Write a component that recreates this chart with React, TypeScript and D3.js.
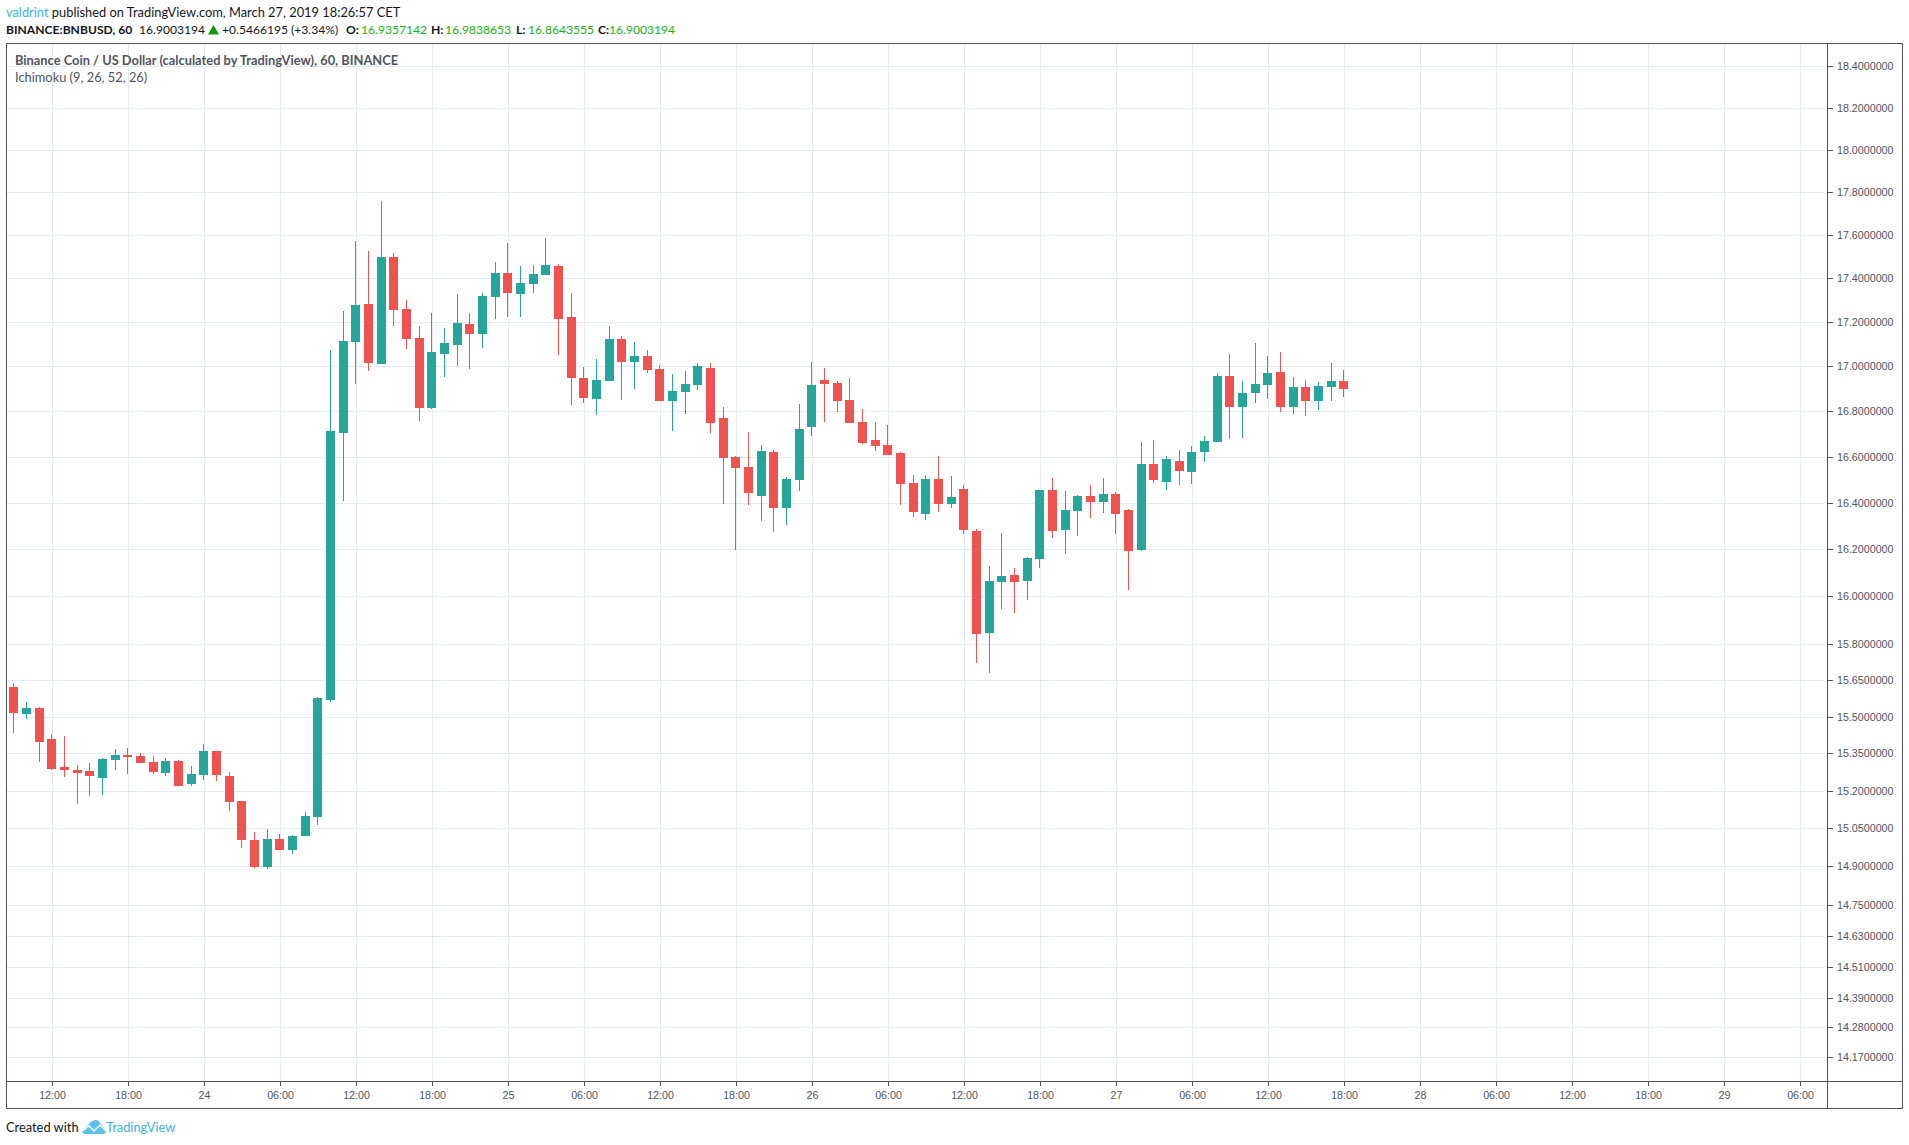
import * as d3 from 'd3';
import { useEffect, useRef } from 'react';

const width = 1909;
const height = 1145;

const opens = [
	15.623, 15.514, 15.538, 15.412, 15.299, 15.287, 15.283, 15.254, 15.327, 15.347, 15.343, 15.319, 15.274, 15.323,
	15.23, 15.266, 15.364, 15.262, 15.162, 15.004, 14.901, 15.008, 14.968, 15.02, 15.095, 15.57, 16.706, 17.112,
	17.285, 17.013, 17.5, 17.262, 17.13, 16.816, 17.058, 17.098, 17.193, 17.148, 17.316, 17.426, 17.33, 17.376,
	17.417, 17.458, 17.225, 16.95, 16.856, 16.936, 17.126, 17.022, 17.049, 16.99, 16.847, 16.888, 16.919, 16.994,
	16.772, 16.6, 16.557, 16.43, 16.622, 16.378, 16.5, 16.732, 16.941, 16.927, 16.852, 16.754, 16.675, 16.653,
	16.618, 16.487, 16.353, 16.504, 16.396, 16.461, 16.28, 15.848, 16.063, 16.092, 16.067, 16.16, 16.457, 16.284,
	16.366, 16.431, 16.405, 16.44, 16.37, 16.198, 16.57, 16.492, 16.583, 16.535, 16.622, 16.666, 16.959, 16.821,
	16.883, 16.919, 16.977, 16.821, 16.91, 16.848, 16.91, 16.9357,
];
const highs = [
	15.639, 15.562, 15.542, 15.432, 15.424, 15.307, 15.315, 15.335, 15.372, 15.376, 15.355, 15.343, 15.335, 15.327,
	15.303, 15.392, 15.364, 15.278, 15.162, 15.036, 15.051, 15.028, 15.024, 15.118, 15.582, 17.075, 17.252, 17.574,
	17.528, 17.76, 17.518, 17.303, 17.184, 17.243, 17.175, 17.33, 17.243, 17.335, 17.477, 17.565, 17.458, 17.463,
	17.588, 17.468, 17.335, 16.999, 17.035, 17.184, 17.139, 17.112, 17.076, 17.008, 16.968, 16.981, 17.017, 17.017,
	16.82, 16.605, 16.71, 16.653, 16.631, 16.513, 16.834, 17.021, 16.994, 16.936, 16.95, 16.812, 16.754, 16.741,
	16.622, 16.522, 16.522, 16.605, 16.517, 16.478, 16.288, 16.131, 16.271, 16.122, 16.169, 16.457, 16.509, 16.452,
	16.435, 16.478, 16.509, 16.448, 16.375, 16.666, 16.675, 16.605, 16.631, 16.649, 16.693, 16.972, 17.058, 16.937,
	17.107, 17.049, 17.067, 16.955, 16.941, 16.932, 17.017, 16.9838,
];
const lows = [
	15.437, 15.493, 15.319, 15.285, 15.258, 15.15, 15.182, 15.186, 15.287, 15.27, 15.315, 15.27, 15.262, 15.222,
	15.222, 15.246, 15.242, 15.122, 14.973, 14.897, 14.893, 14.968, 14.949, 15.02, 15.067, 15.562, 16.409, 16.923,
	16.981, 17.013, 17.184, 17.08, 16.759, 16.812, 16.954, 17.004, 16.99, 17.085, 17.216, 17.225, 17.225, 17.335,
	17.417, 17.053, 16.829, 16.838, 16.785, 16.936, 16.852, 16.901, 16.972, 16.847, 16.715, 16.79, 16.897, 16.706,
	16.396, 16.198, 16.391, 16.323, 16.275, 16.305, 16.452, 16.693, 16.754, 16.799, 16.75, 16.657, 16.627, 16.609,
	16.391, 16.34, 16.327, 16.361, 16.378, 16.267, 15.723, 15.681, 15.948, 15.931, 15.986, 16.122, 16.249, 16.182,
	16.258, 16.335, 16.357, 16.267, 16.029, 16.194, 16.487, 16.457, 16.478, 16.483, 16.578, 16.666, 16.68, 16.684,
	16.839, 16.857, 16.799, 16.79, 16.781, 16.808, 16.848, 16.8644,
];
const closes = [
	15.518, 15.538, 15.4, 15.291, 15.287, 15.274, 15.262, 15.331, 15.347, 15.339, 15.315, 15.278, 15.323, 15.222,
	15.27, 15.364, 15.266, 15.158, 15.004, 14.901, 15.008, 14.968, 15.02, 15.099, 15.578, 16.715, 17.116, 17.28,
	17.017, 17.5, 17.257, 17.126, 16.816, 17.067, 17.107, 17.198, 17.148, 17.321, 17.426, 17.335, 17.38, 17.421,
	17.463, 17.216, 16.95, 16.86, 16.941, 17.126, 17.022, 17.049, 16.985, 16.847, 16.892, 16.923, 17.004, 16.75,
	16.596, 16.552, 16.443, 16.627, 16.378, 16.504, 16.724, 16.919, 16.923, 16.847, 16.75, 16.662, 16.649, 16.609,
	16.483, 16.361, 16.504, 16.396, 16.426, 16.284, 15.843, 16.067, 16.088, 16.063, 16.164, 16.457, 16.28, 16.37,
	16.431, 16.405, 16.44, 16.353, 16.194, 16.57, 16.5, 16.592, 16.54, 16.622, 16.671, 16.959, 16.821, 16.883,
	16.923, 16.972, 16.821, 16.91, 16.848, 16.914, 16.937, 16.9003,
];

const priceTicks = [
	18.4, 18.2, 18, 17.8, 17.6, 17.4, 17.2, 17, 16.8, 16.6, 16.4, 16.2, 16, 15.8, 15.65, 15.5, 15.35, 15.2, 15.05,
	14.9, 14.75, 14.63, 14.51, 14.39, 14.28, 14.17,
];
const timeTickLabels = [
	'12:00', '18:00', '24', '06:00', '12:00', '18:00', '25', '06:00', '12:00', '18:00', '26', '06:00', '12:00',
	'18:00', '27', '06:00', '12:00', '18:00', '28', '06:00', '12:00', '18:00', '29', '06:00',
];

const firstCandle = new Date(Date.UTC(2019, 2, 23, 9));
const firstTick = new Date(Date.UTC(2019, 2, 23, 12));
const lastTick = new Date(Date.UTC(2019, 2, 29, 6));
const timeTicks = d3.utcHour.range(firstTick, d3.utcHour.offset(lastTick, 1), 6);

const plot = { left: 6, top: 43, right: 1827, bottom: 1081, outerRight: 1902, outerBottom: 1108 };

const UP = '#26a69a';
const DOWN = '#ef5350';
const GRID = '#e1ecf2';
const AXIS = '#50535e';
const TEXT = '#4f5560';
const LINK = '#3bb3e4';
const VALUE = '#17b317';

const x = d3.scaleUtc().domain([firstTick, lastTick]).range([52.5, 1800.5]);
const y = d3.scaleLog().domain([14.17, 18.4]).range([1057.3, 66.7]);

// линии ложатся на целый пиксель, иначе расплываются
const snapX = (d: Date) => Math.round(x(d) - 0.5) + 0.5;
const snapY = (d: number) => Math.floor(y(d)) + 0.5;

const headerLine: { text: string; at: number; bold?: boolean; fill?: string }[] = [
	{ text: 'BINANCE:BNBUSD, 60', at: 6, bold: true, fill: '#131722' },
	{ text: '16.9003194', at: 139, fill: '#131722' },
	{ text: '+0.5466195 (+3.34%)', at: 222, fill: '#131722' },
	{ text: 'O:', at: 346, bold: true, fill: '#131722' },
	{ text: '16.9357142', at: 361, fill: VALUE },
	{ text: 'H:', at: 431, bold: true, fill: '#131722' },
	{ text: '16.9838653', at: 445, fill: VALUE },
	{ text: 'L:', at: 516, bold: true, fill: '#131722' },
	{ text: '16.8643555', at: 528, fill: VALUE },
	{ text: 'C:', at: 598, bold: true, fill: '#131722' },
	{ text: '16.9003194', at: 609, fill: VALUE },
];

const headFont = 'Lato, "Open Sans", sans-serif';
const axisFont = '"Liberation Sans", Arial, sans-serif';

export default function App() {
	const chartRef = useRef<SVGSVGElement>(null);

	useEffect(() => {
		const svg = d3.select(chartRef.current);
		svg.selectAll('*').remove();

		svg.append('rect').attr('width', width).attr('height', height).attr('fill', '#fff');

		const grid = svg.append('g').attr('stroke', GRID).attr('stroke-width', 1);
		grid
			.selectAll('line.v')
			.data(timeTicks)
			.enter()
			.append('line')
			.attr('class', 'v')
			.attr('x1', snapX)
			.attr('x2', snapX)
			.attr('y1', plot.top)
			.attr('y2', plot.bottom);
		grid
			.selectAll('line.h')
			.data(priceTicks)
			.enter()
			.append('line')
			.attr('class', 'h')
			.attr('x1', plot.left)
			.attr('x2', plot.right)
			.attr('y1', snapY)
			.attr('y2', snapY);

		// свечи
		const candles = d3.range(opens.length).map((i) => ({
			time: d3.utcHour.offset(firstCandle, i),
			open: opens[i],
			high: highs[i],
			low: lows[i],
			close: closes[i],
		}));
		const candleX = (d: { time: Date }) => Math.floor(x(d.time) - 0.83);
		const candleFill = (d: { open: number; close: number }) => (d.close >= d.open ? UP : DOWN);

		const marks = svg.append('g').attr('shape-rendering', 'crispEdges');
		marks
			.selectAll('rect.wick')
			.data(candles)
			.enter()
			.append('rect')
			.attr('class', 'wick')
			.attr('x', candleX)
			.attr('width', 1)
			.attr('y', (d) => Math.round(y(d.high)))
			.attr('height', (d) => Math.round(y(d.low)) - Math.round(y(d.high)))
			.attr('fill', candleFill);
		marks
			.selectAll('rect.body')
			.data(candles)
			.enter()
			.append('rect')
			.attr('class', 'body')
			.attr('x', (d) => candleX(d) - 4)
			.attr('width', 9)
			.attr('y', (d) => Math.round(y(Math.max(d.open, d.close))))
			.attr('height', (d) =>
				Math.max(1, Math.round(y(Math.min(d.open, d.close))) - Math.round(y(Math.max(d.open, d.close)))),
			)
			.attr('fill', candleFill);

		// рамка
		const frame = svg.append('g').attr('fill', 'none').attr('stroke', AXIS).attr('stroke-width', 1);
		frame
			.append('rect')
			.attr('x', plot.left + 0.5)
			.attr('y', plot.top + 0.5)
			.attr('width', plot.outerRight - plot.left)
			.attr('height', plot.outerBottom - plot.top);
		frame
			.append('path')
			.attr(
				'd',
				`M${plot.right + 0.5} ${plot.top}V${plot.outerBottom}M${plot.left} ${plot.bottom + 0.5}H${plot.outerRight}`,
			);

		// оси
		const priceAxis = d3
			.axisRight(y)
			.tickValues(priceTicks)
			.tickFormat((d) => (d as number).toFixed(7))
			.tickSize(5)
			.tickPadding(4);
		const priceG = svg
			.append('g')
			.attr('transform', `translate(${plot.right + 1},0)`)
			.call(priceAxis);
		priceG.select('.domain').remove();
		priceG.selectAll<SVGGElement, number>('.tick').attr('transform', (d) => `translate(0,${snapY(d)})`);

		const timeAxis = d3
			.axisBottom(x)
			.tickValues(timeTicks)
			.tickFormat((_, i) => timeTickLabels[i])
			.tickSize(4)
			.tickPadding(5);
		const timeG = svg
			.append('g')
			.attr('transform', `translate(0,${plot.bottom + 1})`)
			.call(timeAxis);
		timeG.select('.domain').remove();
		timeG.selectAll<SVGGElement, Date>('.tick').attr('transform', (d) => `translate(${snapX(d)},0)`);

		[priceG, timeG].forEach((g) => {
			g.attr('font-family', axisFont).attr('font-size', 10.7);
			g.selectAll('.tick line').attr('stroke', AXIS);
			g.selectAll('.tick text').attr('fill', TEXT);
		});

		// подписи сверху
		const head = svg.append('g').attr('font-family', headFont).attr('font-size', 12.85);
		const first = head.append('text').attr('x', 6).attr('y', 17).attr('fill', '#131722');
		first.append('tspan').attr('fill', LINK).text('valdrint');
		first.append('tspan').text(' published on TradingView.com, March 27, 2019 18:26:57 CET');

		head
			.selectAll('text.seg')
			.data(headerLine)
			.enter()
			.append('text')
			.attr('class', 'seg')
			.attr('x', (d) => d.at)
			.attr('y', 34)
			.attr('font-size', 12.1)
			.attr('font-weight', (d) => (d.bold ? 700 : 400))
			.attr('fill', (d) => d.fill ?? '#131722')
			.text((d) => d.text);
		head.append('path').attr('d', 'M208 34.5L213.5 25L219 34.5Z').attr('fill', '#0a9a0a');

		head
			.append('text')
			.attr('x', 15)
			.attr('y', 65)
			.attr('font-weight', 700)
			.attr('fill', TEXT)
			.text('Binance Coin / US Dollar (calculated by TradingView), 60, BINANCE');
		head
			.append('text')
			.attr('x', 15)
			.attr('y', 82)
			.attr('fill', TEXT)
			.text('Ichimoku (9, 26, 52, 26)');

		// подпись снизу
		head.append('text').attr('x', 6).attr('y', 1132).attr('fill', '#131722').text('Created with');
		head.append('text').attr('x', 106).attr('y', 1132).attr('fill', LINK).text('TradingView');
		const logo = head.append('g').attr('transform', 'translate(82,1120)');
		logo
			.append('path')
			.attr('d', 'M0 11Q5 6 7 4Q10 0 14 0Q17 0 18 3Q22 7 24 11Q24 14 21 14L3 14Q0 14 0 11Z')
			.attr('fill', '#5cc0ea');
		logo
			.append('path')
			.attr('d', 'M-1 12L7 6L12 11L18 5L25 12')
			.attr('fill', 'none')
			.attr('stroke', '#fff')
			.attr('stroke-width', 1.4);
	}, []);

	return (
		<svg
			ref={chartRef}
			width={width}
			height={height}
			style={{ position: 'absolute', left: 0, top: 0, display: 'block' }}
		/>
	);
}
